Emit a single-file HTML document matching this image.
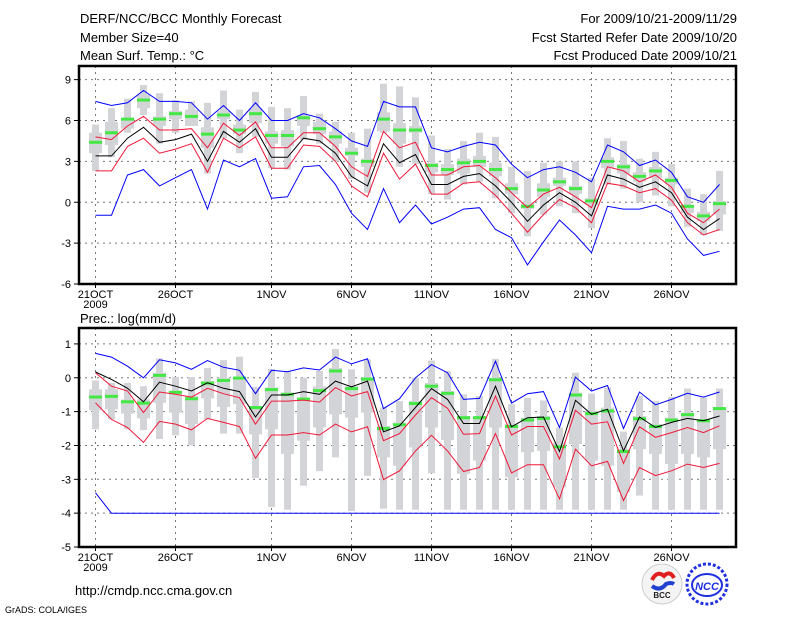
<!DOCTYPE html>
<html><head><meta charset="utf-8"><style>
html,body{margin:0;padding:0;background:#fff;}
svg{display:block;font-family:"Liberation Sans",sans-serif;}
</style></head><body>
<svg id="c" width="800" height="618" viewBox="0 0 800 618">
<rect x="0" y="0" width="800" height="618" fill="#fff"/>
<g font-size="13" fill="#000">
<text x="80" y="23">DERF/NCC/BCC Monthly Forecast</text>
<text x="80" y="42">Member Size=40</text>
<text x="80" y="60">Mean Surf. Temp.: °C</text>
<text x="737" y="23" text-anchor="end">For 2009/10/21-2009/11/29</text>
<text x="737" y="42" text-anchor="end">Fcst Started Refer Date 2009/10/20</text>
<text x="737" y="60" text-anchor="end">Fcst Produced Date 2009/10/21</text>
<text x="80" y="323">Prec.: log(mm/d)</text>
<text x="75" y="595">http://cmdp.ncc.cma.gov.cn</text>
<text x="5" y="613" font-size="9">GrADS: COLA/IGES</text>
</g>
<g>
<circle cx="662" cy="584" r="20" fill="#f4f4f4" stroke="#ccc"/>
<path d="M652 580 q5 -10 12 -4 q6 -6 10 2" stroke="#e02020" stroke-width="4" fill="none"/>
<path d="M652 586 q8 6 14 -2 q5 -2 8 0" stroke="#2040d0" stroke-width="4" fill="none"/>
<text x="662" y="598" font-size="8" text-anchor="middle" font-weight="bold" fill="#222">BCC</text>
</g>
<g>
<circle cx="707" cy="584" r="20" fill="none" stroke="#2030e0" stroke-width="3" stroke-dasharray="3 2"/>
<ellipse cx="707" cy="585" rx="15" ry="11" fill="none" stroke="#2030e0" stroke-width="2"/>
<text x="707" y="590" font-size="11" text-anchor="middle" font-weight="bold" font-style="italic" fill="#2030e0">NCC</text>
</g>
<g id="panels"></g>
</svg>
<script>
const days = ["21OCT","","","","","26OCT","","","","","","1NOV","","","","","6NOV","","","","","11NOV","","","","","16NOV","","","","","21NOV","","","","","26NOV","","",""];
const tempTicks = [9,6,3,0,-3,-6];
const precTicks = [1,0,-1,-2,-3,-4,-5];
const t_blueUp = [7.4,7.1,7.3,8.2,7.4,7.4,7.3,6.1,7.1,6.0,7.3,6.0,6.0,6.5,6.2,5.4,4.5,4.1,7.4,7.0,7.0,4.0,3.7,4.1,4.4,4.2,2.8,1.8,2.4,2.6,2.2,1.5,4.2,3.7,2.7,3.1,2.2,0.4,0.0,1.3];
const t_redUp = [4.8,4.6,5.6,6.3,5.3,5.3,5.4,4.0,5.8,4.9,5.9,4.0,4.0,5.1,5.1,4.1,2.6,1.9,5.2,4.0,4.4,2.0,2.0,2.6,2.7,1.8,0.7,-0.4,0.6,1.1,0.4,-0.4,2.6,2.3,1.5,2.0,1.1,-0.8,-1.5,-0.5];
const t_mean = [3.4,3.4,4.7,5.5,4.4,4.6,5.0,3.0,5.2,4.4,5.4,3.3,3.3,4.7,4.5,3.6,1.9,1.2,4.3,2.9,3.5,1.3,1.3,1.9,2.1,1.2,0.0,-1.4,-0.2,0.7,0.0,-1.0,2.0,1.7,1.1,1.5,0.7,-1.1,-2.0,-1.2];
const t_redLo = [2.3,2.3,4.1,4.7,3.6,3.9,4.3,2.2,4.7,4.0,4.8,2.5,2.5,4.2,4.1,3.0,1.2,0.4,3.6,1.7,2.8,0.6,0.6,1.4,1.5,0.5,-0.8,-2.2,-0.9,0.2,-0.4,-1.5,1.4,1.2,0.7,1.0,0.15,-1.5,-2.4,-2.0];
const t_blueLo = [-0.95,-0.95,2.0,2.4,1.2,1.8,2.4,-0.5,3.1,2.6,3.2,0.3,0.4,2.6,2.7,1.3,-0.8,-2.0,1.0,-1.5,-0.2,-1.6,-1.1,-0.5,-0.4,-2.0,-2.6,-4.6,-2.9,-1.3,-2.4,-3.7,-0.3,-0.5,-0.5,-0.2,-0.8,-2.7,-3.9,-3.6];
const t_green = [4.4,5.1,6.1,7.5,6.1,6.5,6.3,5.0,6.4,5.3,6.5,4.9,4.9,6.2,5.4,4.8,3.6,3.0,6.1,5.3,5.3,2.7,2.4,2.9,3.0,2.4,1.0,-0.3,0.9,1.5,1.0,0.1,3.0,2.6,1.9,2.3,1.6,-0.3,-1.0,-0.1];
const t_whiskHi = [5.7,6.9,7.6,8.6,8.0,7.5,7.4,7.3,8.2,6.8,8.1,7.0,6.9,7.8,6.5,5.9,5.1,5.4,8.7,8.5,7.7,4.9,3.9,4.5,5.1,4.8,2.6,2.3,2.9,3.0,3.0,1.8,4.7,4.5,3.2,3.7,2.8,1.0,0.6,2.3];
const t_whiskLo = [2.3,3.3,5.1,6.4,4.3,5.1,5.6,2.1,4.7,3.6,4.8,2.5,2.4,4.6,4.3,3.0,1.7,0.7,5.1,2.6,2.8,0.6,0.2,1.3,1.5,0.3,-0.8,-2.5,-0.9,-0.3,-0.8,-1.9,1.3,1.0,0.0,0.5,-0.3,-1.8,-2.4,-2.1];
const t_boxHi = [5.1,5.9,6.2,7.9,6.3,6.7,6.8,5.5,6.7,5.7,6.9,5.2,5.3,6.3,5.9,5.2,4.0,3.2,6.6,5.8,5.6,2.9,2.8,3.2,3.4,2.9,1.4,0.0,1.4,1.8,1.2,0.3,3.3,2.8,2.2,2.6,1.8,-0.2,-0.7,0.1];
const t_boxLo = [3.6,4.2,5.4,6.9,5.6,6.1,5.6,4.0,6.1,5.0,5.8,4.3,4.1,5.6,5.0,4.3,3.4,2.6,5.2,4.3,5.1,2.2,2.0,2.1,2.6,1.9,0.6,-0.5,0.4,1.2,0.6,-0.2,2.5,2.1,1.5,1.8,1.3,-0.8,-1.4,-0.9];
const p_blueUp = [0.72,0.61,0.34,0.0,0.53,0.44,0.25,0.51,0.31,0.22,-0.47,0.22,0.18,0.29,0.23,0.61,0.41,0.56,-0.91,-0.62,0.0,0.39,0.15,-0.64,-0.61,0.49,-0.75,-0.47,-0.41,-1.47,0.02,-0.39,-0.23,-1.5,-0.42,-0.8,-0.64,-0.46,-0.57,-0.42];
const p_redUp = [0.15,-0.25,-0.39,-1.03,-0.42,-0.49,-0.57,-0.31,-0.47,-0.59,-1.37,-0.69,-0.69,-0.66,-0.72,-0.29,-0.54,-0.41,-1.86,-1.65,-1.1,-0.59,-0.9,-1.67,-1.65,-0.54,-1.69,-1.44,-1.44,-2.4,-0.96,-1.37,-1.3,-2.53,-1.45,-1.76,-1.62,-1.47,-1.62,-1.42];
const p_mean = [0.17,-0.05,-0.31,-0.71,-0.13,-0.25,-0.39,-0.15,-0.31,-0.41,-1.16,-0.51,-0.51,-0.41,-0.49,-0.1,-0.27,-0.1,-1.6,-1.42,-0.88,-0.32,-0.64,-1.35,-1.35,-0.25,-1.45,-1.18,-1.16,-2.18,-0.67,-1.08,-0.93,-2.16,-1.16,-1.47,-1.32,-1.2,-1.27,-1.13];
const p_redLo = [-0.74,-1.23,-1.47,-1.91,-1.29,-1.37,-1.54,-1.2,-1.32,-1.44,-2.38,-1.69,-1.69,-1.62,-1.69,-1.37,-1.6,-1.45,-3.01,-2.75,-2.16,-1.7,-2.16,-2.77,-2.65,-1.65,-2.81,-2.57,-2.57,-3.58,-2.11,-2.6,-2.47,-3.63,-2.65,-2.89,-2.75,-2.55,-2.65,-2.53];
const p_blueLo = [-3.4,-4,-4,-4,-4,-4,-4,-4,-4,-4,-4,-4,-4,-4,-4,-4,-4,-4,-4,-4,-4,-4,-4,-4,-4,-4,-4,-4,-4,-4,-4,-4,-4,-4,-4,-4,-4,-4,-4,-4];
const p_green = [-0.57,-0.55,-0.71,-0.75,0.07,-0.43,-0.62,-0.16,-0.08,-0.01,-0.88,-0.35,-0.49,-0.63,-0.38,0.2,-0.32,-0.04,-1.5,-1.39,-0.76,-0.25,-0.46,-1.18,-1.18,-0.06,-1.44,-1.25,-1.2,-2.04,-0.51,-1.06,-0.98,-2.18,-1.21,-1.44,-1.25,-1.09,-1.27,-0.91];
const p_whiskHi = [-0.08,-0.15,-0.15,-0.25,0.57,0.02,0.02,0.29,0.52,0.62,-0.27,0.26,0.2,0,0.2,0.85,0.25,0.54,-0.88,-0.69,0,0.51,0.2,-0.49,-0.54,0.56,-0.78,-0.59,-0.67,-1.47,0.15,-0.47,-0.29,-1.59,-0.54,-0.69,-0.57,-0.32,-0.59,-0.32];
const p_whiskLo = [-1.52,-1.23,-1.52,-1.55,-1.81,-1.7,-2.0,-1.23,-1.65,-1.65,-2.96,-3.82,-3.9,-3.19,-2.76,-2.35,-3.94,-2.9,-3.87,-3.9,-3.9,-2.82,-3.9,-3.9,-3.9,-3.9,-3.9,-3.9,-3.9,-3.9,-3.9,-3.9,-3.9,-3.9,-3.48,-3.9,-3.9,-3.9,-3.9,-3.9];
const p_boxHi = [-0.34,-0.34,-0.64,-0.64,0.15,-0.39,-0.54,-0.1,0,0,-0.83,-0.29,-0.44,-0.59,-0.25,0.29,-0.25,0,-1.42,-1.32,-0.69,-0.15,-0.39,-1.13,-1.13,0,-1.37,-1.18,-1.13,-1.91,-0.44,-0.98,-0.88,-2.11,-1.13,-1.37,-1.18,-1.03,-1.23,-0.88];
const p_boxLo = [-0.96,-0.93,-1.06,-1.2,-0.74,-1.03,-1.37,-0.61,-0.86,-0.78,-1.67,-1.52,-2.25,-1.86,-1.47,-1.08,-1.18,-1.03,-2.35,-2.6,-2.06,-1.47,-1.84,-2.84,-2.45,-1.47,-2.94,-2.2,-2.16,-3.24,-1.96,-2.45,-2.6,-3.38,-2.11,-2.25,-2.55,-2.25,-2.35,-2.11];

const NS = "http://www.w3.org/2000/svg";
const root = document.getElementById("panels");
function xs(d){ return 95.5 + 16*d; }
function mk(tag, attrs, parent){
  const e = document.createElementNS(NS, tag);
  for (const k in attrs) e.setAttribute(k, attrs[k]);
  parent.appendChild(e);
  return e;
}
function panel(name, top, bottom, vmax, vmin, ticks, S){
  const g = mk("g", {}, root);
  
  
  const ys = v => top + (vmax - v) / (vmax - vmin) * (bottom - top);
  const L = 79, R = 736;
  // grid
  ticks.forEach(t => {
    const y = ys(t);
    if (t !== vmin) {
      const gl = mk("line", {x1:L, x2:R, y1:y, y2:y, stroke:"#777", "stroke-width":1, "stroke-dasharray":"2 4"}, g);
      
      
    }
    mk("line", {x1:L-5, x2:L, y1:y, y2:y, stroke:"#000"}, g);
    const tx = mk("text", {x:L-8, y:y+4, "text-anchor":"end", "font-size":"11"}, g);
    tx.textContent = t;
    
    
  });
  days.forEach((lab, d) => {
    if (!lab) return;
    const x = xs(d);
    const vl = mk("line", {x1:x, x2:x, y1:top, y2:bottom, stroke:"#777", "stroke-width":1, "stroke-dasharray":"2 4"}, g);
    
    
    mk("line", {x1:x, x2:x, y1:bottom, y2:bottom+4, stroke:"#000"}, g);
    const tx = mk("text", {x:x, y:bottom+14, "text-anchor":"middle", "font-size":"11"}, g);
    tx.textContent = lab;
    
    
  });
  const yr = mk("text", {x:xs(0), y:bottom+24, "text-anchor":"middle", "font-size":"11"}, g);
  yr.textContent = "2009";
  
  
  // spread bars
  S.wh.forEach((hi, d) => {
    const x = xs(d);
    const w = mk("rect", {x:x-3.5, y:ys(hi), width:7, height:Math.max(1, ys(S.wl[d]) - ys(hi)), fill:"#d3d4d8"}, g);
    
    
    const b = mk("rect", {x:x-6.5, y:ys(S.bh[d]), width:13, height:Math.max(1, ys(S.bl[d]) - ys(S.bh[d])), fill:"#d3d4d8"}, g);
    
    
  });
  // green marks
  S.gr.forEach((v, d) => {
    const m = mk("rect", {x:xs(d)-6.5, y:ys(v)-1.5, width:13, height:3, fill:"#44e844"}, g);
    
    
  });
  // lines
  const line = (arr, col, nm) => {
    const p = mk("polyline", {points: arr.map((v, d) => xs(d) + "," + ys(v).toFixed(1)).join(" "), fill:"none", stroke:col, "stroke-width":1}, g);
    
    
  };
  line(S.bu, "#0000ff", "upper-extreme-line");
  line(S.bl2, "#0000ff", "lower-extreme-line");
  line(S.ru, "#f01838", "upper-spread-line");
  line(S.rl, "#f01838", "lower-spread-line");
  line(S.mn, "#000000", "ensemble-mean-line");
  const fr = mk("rect", {x:L, y:top, width:R-L, height:bottom-top, fill:"none", stroke:"#000", "stroke-width":2.5}, g);
  
  
}
panel("temperature-panel", 66, 284, 10, -6, tempTicks,
  {wh:t_whiskHi, wl:t_whiskLo, bh:t_boxHi, bl:t_boxLo, gr:t_green, bu:t_blueUp, bl2:t_blueLo, ru:t_redUp, rl:t_redLo, mn:t_mean});
panel("precipitation-panel", 328, 547, 1.47, -5, precTicks,
  {wh:p_whiskHi, wl:p_whiskLo, bh:p_boxHi, bl:p_boxLo, gr:p_green, bu:p_blueUp, bl2:p_blueLo, ru:p_redUp, rl:p_redLo, mn:p_mean});
</script>
</body></html>
